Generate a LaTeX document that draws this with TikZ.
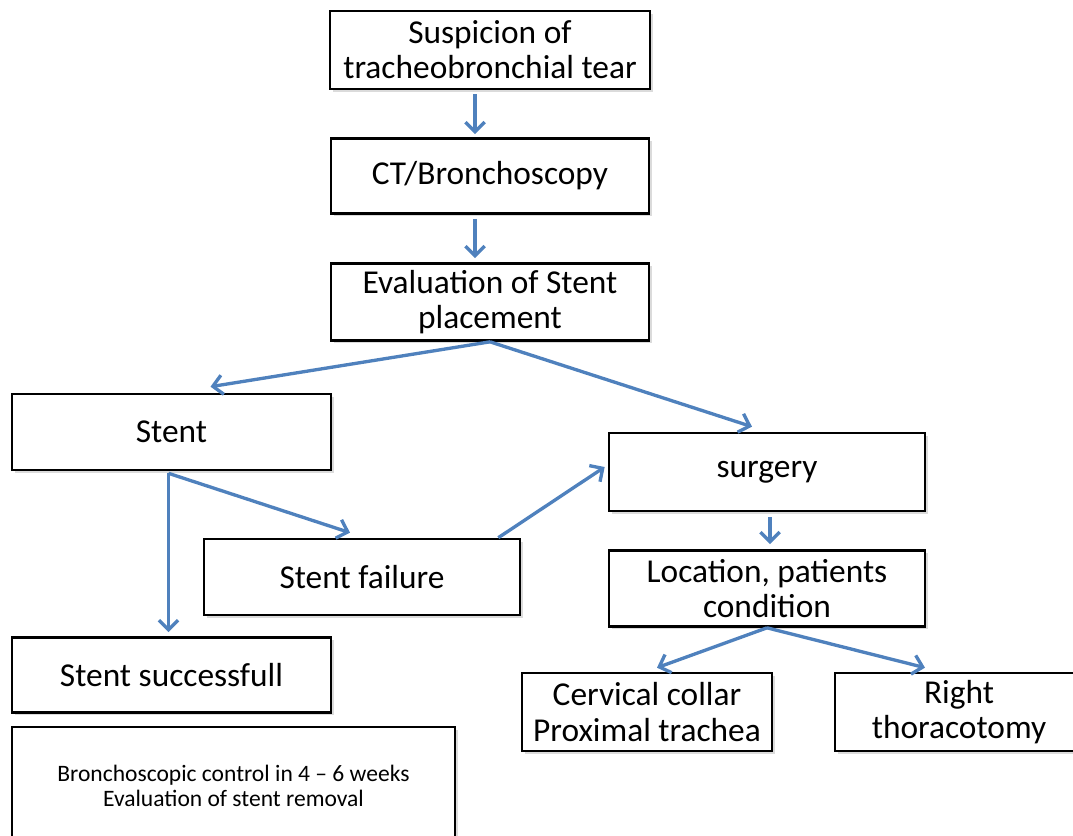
\documentclass[tikz,border=0pt]{standalone}
\usepackage{fontspec}
\setmainfont{Carlito}
\usetikzlibrary{arrows.meta,calc,shadows}

\tikzset{
  box/.style={draw,line width=1.5pt,fill=white,align=center,font=\fontsize{19}{20}\selectfont,
    inner sep=0pt,drop shadow={shadow xshift=1.5pt,shadow yshift=-1.5pt,fill=black!40,opacity=.35}},
  flow/.style={draw={rgb,255:red,79;green,129;blue,189},line width=1.9pt,
    -{Straight Barb[length=5.5pt,width=11pt,line width=1.9pt]}}
}

\begin{document}
\begin{tikzpicture}[x=.02cm,y=-.02cm]
\useasboundingbox (0,0) rectangle (1073,836);
\clip (0,0) rectangle (1073,836);
\node[box,minimum width=320*.02cm,minimum height=78*.02cm] (susp) at (490,50) {Suspicion of\\tracheobronchial tear};
\node[box,minimum width=318*.02cm,minimum height=75*.02cm] (ct) at (490,176) {CT/Bronchoscopy};
\node[box,minimum width=318*.02cm,minimum height=77*.02cm] (eval) at (490,302) {Evaluation of Stent\\placement};
\node[box,minimum width=319*.02cm,minimum height=76*.02cm] (stent) at (171.5,432) {Stent};
\node[box,minimum width=316*.02cm,minimum height=78*.02cm] (surg) at (767,472) {surgery};
\node[box,minimum width=316*.02cm,minimum height=76*.02cm] (fail) at (362,577) {Stent failure};
\node[box,minimum width=316*.02cm,minimum height=76*.02cm] (loc) at (767,588.5) {Location, patients\\condition};
\node[box,minimum width=319*.02cm,minimum height=75*.02cm] (succ) at (171.5,675) {Stent successfull};
\node[box,minimum width=250*.02cm,minimum height=78*.02cm] (cerv) at (647,712) {Cervical collar\\Proximal trachea};
\node[box,minimum width=248*.02cm,minimum height=78*.02cm] (thor) at (959,712) {Right\\thoracotomy};
\node[box,font=\fontsize{13.4}{14.5}\selectfont,minimum width=443*.02cm,minimum height=118*.02cm] (ctrl) at (233.5,786)
  {Bronchoscopic control in 4 -- 6 weeks\\Evaluation of stent removal};

\draw[flow] ($(susp.south)+(-15,4)$) -- ($(ct.north)+(-15,-3)$);
\draw[flow] ($(ct.south)+(-15,4)$) -- ($(eval.north)+(-15,-4)$);
\draw[flow] (eval.south) -- ($(stent.north)+(39,-6)$);
\draw[flow] (eval.south) -- ($(surg.north)+(-15,-5)$);
\draw[flow] ($(stent.south)+(-3,2)$) -- ($(fail.north)+(-12,-5)$);
\draw[flow] ($(stent.south)+(-3,2)$) -- ($(succ.north)+(-3,-4)$);
\draw[flow] ($(fail.north east)+(-23,0)$) -- ($(surg.west)+(-3,-5)$);
\draw[flow] ($(surg.south)+(3,5)$) -- ($(loc.north)+(3,-5)$);
\draw[flow] (loc.south) -- ($(cerv.north)+(10,-4)$);
\draw[flow] (loc.south) -- ($(thor.north)+(-34,-4)$);
\end{tikzpicture}
\end{document}
